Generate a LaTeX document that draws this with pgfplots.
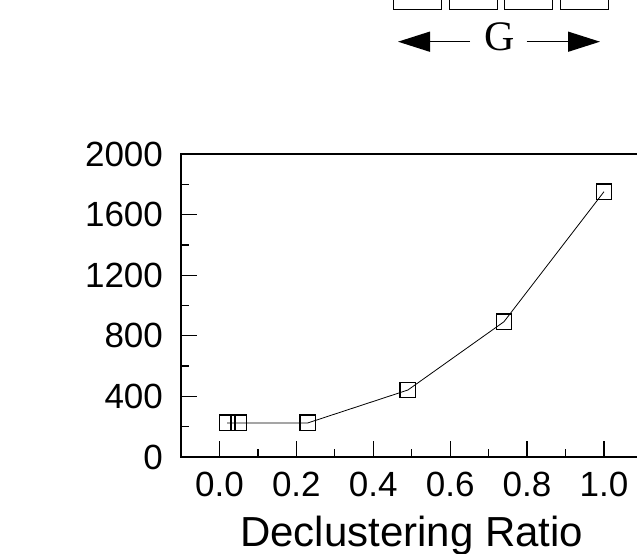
\documentclass[border=0pt]{standalone}
\usepackage{fontspec}
\setmainfont{Liberation Sans}
\newfontfamily\seriffont{Liberation Serif}
\usepackage{pgfplots}
\pgfplotsset{compat=1.18}
\usetikzlibrary{arrows.meta}
\begin{document}
\begin{tikzpicture}
\begin{axis}[
  at={(0,0)}, anchor=south west,
  scale only axis,
  width=230.7pt, height=151.5pt,
  xmin=-0.1, xmax=1.1,
  ymin=0, ymax=2000,
  xtick={0,0.2,0.4,0.6,0.8,1.0},
  minor xtick={0.1,0.3,0.5,0.7,0.9},
  ytick={0,400,800,1200,1600,2000},
  minor ytick={200,600,1000,1400,1800},
  tick pos=left,
  tick align=inside,
  major tick length=8pt,
  minor tick length=4pt,
  every tick/.style={black, line width=0.65pt},
  axis line style={line width=0.65pt},
  /pgf/number format/assume math mode=true,
  xticklabel style={/pgf/number format/.cd, fixed, fixed zerofill, precision=1, /tikz/.cd, yshift=-4pt},
  yticklabel style={/pgf/number format/1000 sep={}, xshift=-5.5pt},
  ticklabel style={font=\fontsize{17.5}{21}\selectfont},
  xlabel={Declustering Ratio},
  xlabel style={font=\fontsize{21}{24}\selectfont, yshift=-2.5pt},
]
\addplot[black, line width=0.4pt, mark=square, mark size=3.9pt,
  mark options={line width=0.65pt}] coordinates {
  (0.02,225) (0.05,225) (0.23,225) (0.49,442) (0.74,893) (1.0,1751)
};
\end{axis}
% top decoration (boxes with the G span)
\foreach \a/\b in {106.15/130.35, 134.15/158.35, 161.65/185.85, 189.5/213.65}
  \draw[line width=0.5pt] (\a pt,240pt) -- (\a pt,223.5pt) -- (\b pt,223.5pt) -- (\b pt,240pt);
\draw[line width=0.7pt, -{Triangle[length=16pt,width=10pt]}] (144.5pt,207.65pt) -- (108.5pt,207.65pt);
\draw[line width=0.7pt, -{Triangle[length=16pt,width=10pt]}] (172.85pt,207.65pt) -- (209.5pt,207.65pt);
\node[font=\seriffont\fontsize{21}{24}\selectfont] at (159.5pt,210pt) {G};
\pgfresetboundingbox
\path[use as bounding box] (-90.5pt,-48pt) rectangle (228pt,228.5pt);
\end{tikzpicture}
\end{document}
